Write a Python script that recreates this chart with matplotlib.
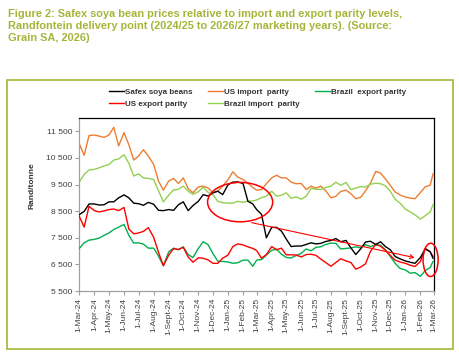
import matplotlib

matplotlib.use("Agg")
import matplotlib.pyplot as plt
import matplotlib.dates as mdates
from matplotlib.patches import Ellipse, Rectangle
from matplotlib.transforms import Bbox, TransformedBbox
import pandas as pd

# values, one point every ~10 days (1st, 11th, 21st) + last day
MONTHS = pd.date_range("2024-03-01", "2026-02-01", freq="MS")
DATES = [m + pd.Timedelta(days=d) for m in MONTHS for d in (0, 10, 20)] + [pd.Timestamp("2026-02-27")]

safex = [8370, 8490, 8770, 8770, 8730, 8740, 8850, 8850, 9000, 9110, 9000, 8800, 8780, 8720, 8830,
         8760, 8530, 8520, 8560, 8530, 8740, 8850, 8520, 8710, 8870,
         9120, 9070, 9190, 9250, 9120, 9490, 9590, 9600, 9540, 8870, 8770, 8560, 8380, 7500, 7890,
         7890, 7750, 7450, 7170, 7190, 7190, 7250, 7310, 7270,
         7290, 7360, 7400, 7470, 7350, 7400, 7120, 6870, 7080, 7340, 7370, 7250, 7350, 7170, 7050,
         6800, 6710, 6630, 6580, 6540, 6760, 7080, 6980, 6730]
us_import = [11030, 10600, 11340, 11360, 11320, 11270, 11360, 11650, 10950, 11450, 10990, 10420,
             10570, 10810, 10570, 10260, 9630, 9290, 9630, 9730, 9540, 9750, 9350, 9190, 9410,
             9440, 9370, 9190, 9250, 9440, 9680, 9980, 9780, 9690, 9550, 9390, 9290, 9310, 9530,
             9750, 9850, 9750, 9750, 9590, 9530, 9540, 9310, 9440, 9360,
             9440, 9270, 9000, 9060, 9240, 9290, 9150, 8970, 9020, 9260, 9540, 9990, 9930, 9710,
             9470, 9220, 9110, 9030, 8990, 8970, 9200, 9420, 9470, 9900]
brazil_export = [7100, 7310, 7410, 7440, 7490, 7590, 7680, 7810, 7900, 8000, 7590, 7300, 7310, 7260,
                 7110, 7110, 6810, 6450, 6970, 7110, 7050, 7160, 6870, 6760, 7100,
                 7350, 7240, 6910, 6620, 6610, 6590, 6540, 6560, 6660, 6660, 6430, 6660, 6680, 6850,
                 7030, 7070, 6880, 6760, 6740, 6830, 6920, 7080, 7010, 7140,
                 7160, 7250, 7300, 7290, 7080, 7100, 7120, 7160, 7120, 7240, 7170, 7240, 7220, 7050,
                 6800, 6540, 6350, 6290, 6170, 6190, 6050, 6270, 6380, 6610]
us_export = [8300, 7900, 8680, 8520, 8470, 8510, 8560, 8580, 8520, 8640, 7830, 7650, 7680, 7740,
             7880, 7520, 6950, 6450, 6850, 7090, 7060, 7140, 6780, 6580, 6750,
             6730, 6670, 6540, 6540, 6730, 6850, 7170, 7270, 7230, 7160, 7100, 7020, 6730, 6870,
             7170, 7050, 7110, 6860, 6860, 6850, 6780, 6870, 6880, 6840,
             6700, 6570, 6430, 6570, 6710, 6630, 6570, 6320, 6400, 6520, 6980, 7250, 7180, 7030,
             6840, 6660, 6590, 6540, 6470, 6420, 6610, 7100, 6970, 6800]
brazil_import = [9600, 9880, 10050, 10070, 10130, 10200, 10250, 10420, 10460, 10620, 10300, 9820,
                 9900, 9750, 9730, 9690, 9270, 8850, 9100, 9300, 9320, 9440, 9250, 9130, 9230,
                 9400, 9210, 9120, 8870, 8820, 8800, 8800, 8870, 8830, 8880, 8880, 8920, 9010, 9060,
                 9250, 9060, 9100, 9190, 8980, 9040, 8950, 9060, 9360, 9320,
                 9320, 9390, 9440, 9590, 9470, 9580, 9310, 9370, 9420, 9410, 9510, 9550, 9530, 9450,
                 9250, 8950, 8800, 8580, 8470, 8360, 8200, 8330, 8470, 8740]

X_TICKS = pd.date_range("2024-03-01", "2026-03-01", freq="MS")
X_LABELS = ["1-Mar-24", "1-Apr-24", "1-May-24", "1-Jun-24", "1-Jul-24", "1-Aug-24", "1-Sept-24",
            "1-Oct-24", "1-Nov-24", "1-Dec-24", "1-Jan-25", "1-Feb-25", "1-Mar-25", "1-Apr-25",
            "1-May-25", "1-Jun-25", "1-Jul-25", "1-Aug-25", "1-Sept-25", "1-Oct-25", "1-Nov-25",
            "1-Dec-25", "1-Jan-26", "1-Feb-26", "1-Mar-26"]
Y_TICKS = [5500, 6500, 7500, 8500, 9500, 10500, 11500]
Y_LABELS = ["5 500", "6 500", "7 500", "8 500", "9 500", "10 500", "11 500"]

TITLE = ("Figure 2: Safex soya bean prices relative to import and export parity levels,\n"
         "Randfontein delivery point (2024/25 to 2026/27 marketing years). (Source:\n"
         "Grain SA, 2026)")
OLIVE = "#a6b53a"

W, H = 460, 356
fig = plt.figure(figsize=(W / 100, H / 100), dpi=100)

fig.text(8 / W, 1 - 9 / H, TITLE, ha="left", va="top", color=OLIVE, fontsize=7.95,
         fontweight="bold", family=["Liberation Sans Narrow", "Liberation Sans"], linespacing=1.24)
fig.patches.append(Rectangle((7 / W, 7 / H), 446 / W, 269 / H, transform=fig.transFigure,
                             fill=False, ec=OLIVE, lw=1.2))

ax = fig.add_axes([79.3 / W, 65 / H, 354.7 / W, 173 / H])
ln_safex, = ax.plot(DATES, safex, color="black", lw=1.0, zorder=6)
ln_usi, = ax.plot(DATES, us_import, color="#ed7d31", lw=1.0, zorder=2)
ln_bre, = ax.plot(DATES, brazil_export, color="#00b050", lw=1.0, zorder=3)
ln_use, = ax.plot(DATES, us_export, color="#ff0000", lw=1.0, zorder=4)
ln_bri, = ax.plot(DATES, brazil_import, color="#92d050", lw=1.0, zorder=2)

# red highlights
big = Ellipse((mdates.date2num(pd.Timestamp("2025-01-26")), 8840), 134, 1480,
              fill=False, ec="red", lw=1.1, zorder=7)
small = Ellipse((mdates.date2num(pd.Timestamp("2026-02-22")), 6670), 31, 1250,
                fill=False, ec="red", lw=1.1, zorder=7, clip_on=False)
ax.add_patch(big)
ax.add_patch(small)
ax.annotate("", xy=(pd.Timestamp("2026-01-26"), 6730), xytext=(pd.Timestamp("2025-02-13"), 8090),
            arrowprops=dict(arrowstyle="->", color="red", lw=0.8, mutation_scale=7), zorder=7)

ax.set_xlim(pd.Timestamp("2024-03-01"), pd.Timestamp("2026-03-01"))
ax.set_ylim(5500, 12000)
ax.set_xticks(X_TICKS)
ax.set_xticklabels(X_LABELS, rotation=90, fontsize=6, color="#404040", family="Liberation Sans")
ax.set_yticks(Y_TICKS)
ax.set_yticklabels(Y_LABELS, fontsize=6, color="#404040", family="Liberation Sans")
ax.tick_params(axis="both", direction="out", length=3, width=0.8, color="#a0a0a0", pad=2)
for s in ("top", "right"):
    ax.spines[s].set_color("black")
    ax.spines[s].set_linewidth(0.9)
for s in ("left", "bottom"):
    ax.spines[s].set_color("#a0a0a0")
    ax.spines[s].set_linewidth(0.9)

fig.text(32 / W, 1 - 185.5 / H, "Rand/tonne", rotation=90, ha="center", va="center",
         fontsize=6, fontweight="bold", color="#333333", family="Liberation Sans")

handles = [ln_safex, ln_use, ln_usi, ln_bri, ln_bre]
labels = ["Safex soya beans", "US export parity", "US import  parity", "Brazil import  parity",
          "Brazil  export parity"]
fig.legend(handles, labels, ncol=3, loc="upper left", bbox_to_anchor=(109 / W, 1 - 88 / H),
           frameon=False, borderpad=0, borderaxespad=0, handlelength=1.85, handletextpad=0.15,
           columnspacing=1.9, labelspacing=0.6,
           prop=dict(family="Liberation Sans", weight="bold", size=5.8), labelcolor="#333333")

# the last date label is cut off in the original
fig.canvas.draw()
last = ax.xaxis.get_major_ticks()[-1].label1
last.set_clip_on(True)
last.set_clip_box(TransformedBbox(Bbox([[0, 0], [436 / W, 1]]), fig.transFigure))

fig.savefig("out.png", dpi=100)
